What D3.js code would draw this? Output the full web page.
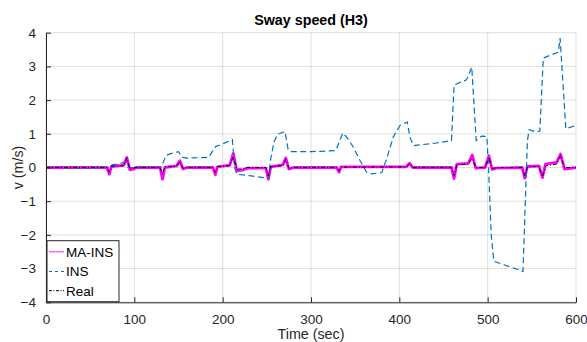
<!DOCTYPE html>
<html>
<head>
<meta charset="utf-8">
<script src="https://cdn.jsdelivr.net/npm/d3@7"></script>
<style>
  html, body { margin: 0; padding: 0; background: #fff; }
  svg { display: block; font-family: "Liberation Sans", Arial, Helvetica, sans-serif; }
</style>
</head>
<body>
<svg id="chart" width="587" height="342"></svg>
<script>
// Sway speed estimates over time: magnetometer-aided INS, plain INS, and the reference.
const xTicks = [0, 100, 200, 300, 400, 500, 600];
const yTicks = [-4, -3, -2, -1, 0, 1, 2, 3, 4];

const realT = [0, 69, 71.7, 74, 88, 91.5, 95, 99, 102, 129, 132, 134.5, 148, 151.5, 155, 160,
  189, 191.7, 194, 208, 212, 216, 222, 228, 249, 251.7, 254.5, 268, 271.5, 275, 280,
  329, 331.7, 334, 340, 408, 411.5, 415, 459, 462, 465, 478, 482.5, 486.5, 497, 501.5, 505, 510,
  539, 542, 545, 558, 562, 565.5, 578, 582.5, 587, 600];
const realV = [0, 0, -0.14, 0.04, 0.05, 0.28, -0.04, -0.02, 0, 0, -0.2, 0.02, 0.04, 0.17, -0.02, 0,
  0, -0.15, 0.03, 0.05, 0.32, -0.05, -0.04, 0, 0, -0.25, 0.03, 0.05, 0.24, -0.03, 0,
  0, -0.1, 0.02, 0.01, 0.02, 0.11, 0, 0, -0.24, 0.08, 0.1, 0.27, 0, 0, 0.29, -0.03, 0,
  0, -0.25, 0.02, 0.03, -0.27, 0.05, 0.1, 0.35, 0, 0];

const maT = [0, 69, 71.7, 74, 88, 91.5, 95, 99, 102, 129, 132, 134.5, 148, 151.5, 155, 160,
  189, 191.7, 194, 208, 212, 216, 222, 228, 249, 251.7, 254.5, 268, 271.5, 275, 280,
  329, 331.7, 334, 340, 408, 411.5, 415, 459, 462, 465, 478, 482.5, 486.5, 497, 501.5, 505, 510,
  539, 542, 545, 558, 562, 565.5, 578, 582.5, 587, 592, 600];
const maV = [0, 0, -0.2, 0.03, 0.07, 0.3, -0.07, -0.05, 0, 0, -0.35, 0, 0.05, 0.2, -0.04, 0,
  0, -0.22, 0.02, 0.07, 0.42, -0.1, -0.08, -0.02, -0.02, -0.35, 0.02, 0.08, 0.28, -0.05, 0,
  0, -0.14, 0.02, 0.02, 0.02, 0.13, 0, 0, -0.33, 0.1, 0.12, 0.37, -0.02, 0, 0.35, -0.06, -0.02,
  0, -0.32, 0.03, 0.05, -0.3, 0.1, 0.15, 0.4, -0.05, -0.03, 0];

const insT = [0, 18, 22, 55, 60, 70, 72, 80, 88, 90.5, 92, 130, 131, 136, 142, 150, 154, 160,
  184, 189, 192, 200, 211, 213.5, 216, 230, 252, 254, 258, 262, 270.5, 274, 277, 300, 328,
  336, 340.5, 348, 355.5, 363, 369, 380, 385.7, 393, 400.8, 409, 412, 416, 440, 459,
  462, 476, 482, 487, 493, 499, 501, 504, 507, 520, 540, 542, 545, 547, 555, 559,
  563, 580, 582, 588.5, 600];
const insV = [0, 0, -0.03, -0.03, 0, 0, 0.06, 0.1, 0.15, 0.05, 0, 0, 0.05, 0.36, 0.42, 0.47, 0.3, 0.28,
  0.3, 0.5, 0.62, 0.7, 0.83, 0, -0.2, -0.24, -0.32, 0.2, 0.75, 0.98, 1.07, 0.55, 0.47, 0.47, 0.5,
  1.02, 0.9, 0.6, 0.21, -0.14, -0.19, -0.15, 0.26, 0.9, 1.25, 1.35, 0.9, 0.65, 0.72, 0.8,
  2.45, 2.6, 2.98, 0.8, 0.93, 0.92, 0, -2.0, -2.78, -2.9, -3.08, -1.5, 0.8, 1.12, 1.05, 1.08,
  3.25, 3.42, 3.84, 1.15, 1.25];

const seriesNames = ["MA-INS", "INS", "Real"];

const svg = d3.select("#chart");
const plotLeft = 46, plotRight = 576, plotTop = 32.7, plotBottom = 302.3;
const x = d3.scaleLinear().domain([0, 600]).range([plotLeft, plotRight]);
const y = d3.scaleLinear().domain([-4, 4]).range([plotBottom, plotTop]);
const axisColor = "#262626";
const fontSize = "13.5px";

// grid
const grid = svg.append("g");
grid.selectAll("line.gx").data(xTicks).join("line")
  .attr("x1", d => x(d)).attr("x2", d => x(d)).attr("y1", plotTop).attr("y2", plotBottom)
  .attr("stroke", axisColor).attr("stroke-opacity", 0.15).attr("stroke-width", 1);
grid.selectAll("line.gy").data(yTicks).join("line")
  .attr("x1", plotLeft).attr("x2", plotRight).attr("y1", d => y(d)).attr("y2", d => y(d))
  .attr("stroke", axisColor).attr("stroke-opacity", 0.15).attr("stroke-width", 1);

// series
const toPts = (ts, vs) => ts.map((t, i) => [t, vs[i]]);
const line = d3.line().x(d => x(d[0])).y(d => y(d[1]));
const plot = svg.append("g");
plot.append("path").datum(toPts(maT, maV)).attr("d", line)
  .attr("fill", "none").attr("stroke", "#ff00ff").attr("stroke-width", 2.8).attr("stroke-linejoin", "round");
plot.append("path").datum(toPts(insT, insV)).attr("d", line)
  .attr("fill", "none").attr("stroke", "#0072bd").attr("stroke-width", 1.2).attr("stroke-dasharray", "6,3.5");
plot.append("path").datum(toPts(realT, realV)).attr("d", line)
  .attr("fill", "none").attr("stroke", "#000").attr("stroke-width", 1).attr("stroke-dasharray", "4,2,1,2");

// axes
const xAxis = svg.append("g").attr("transform", `translate(0,${plotBottom})`)
  .call(d3.axisBottom(x).tickValues(xTicks).tickSizeInner(-5).tickSizeOuter(0).tickPadding(12));
const yAxis = svg.append("g").attr("transform", `translate(${plotLeft},0)`)
  .call(d3.axisLeft(y).tickValues(yTicks).tickSizeInner(-5).tickSizeOuter(0).tickPadding(10));
[xAxis, yAxis].forEach(g => {
  g.select(".domain").attr("stroke", axisColor).attr("stroke-width", 1);
  g.selectAll(".tick line").attr("stroke", axisColor);
  g.selectAll(".tick text").attr("fill", axisColor).style("font-size", fontSize)
    .style("font-family", "'Liberation Sans', Arial, sans-serif");
});

// labels
svg.append("text").attr("x", (plotLeft + plotRight) / 2).attr("y", 25).attr("text-anchor", "middle")
  .style("font-size", "14.3px").style("font-weight", "bold").attr("fill", "#000").text("Sway speed (H3)");
svg.append("text").attr("x", (plotLeft + plotRight) / 2).attr("y", 338.5).attr("text-anchor", "middle")
  .style("font-size", "14.3px").attr("fill", axisColor).text("Time (sec)");
svg.append("text").attr("transform", `translate(23,${(plotTop + plotBottom) / 2}) rotate(-90)`)
  .attr("text-anchor", "middle").style("font-size", "14.3px").attr("fill", axisColor).text("v (m/s)");

// legend
const lg = svg.append("g");
lg.append("rect").attr("x", 47).attr("y", 240.7).attr("width", 72).attr("height", 61)
  .attr("fill", "#fff").attr("stroke", axisColor).attr("stroke-width", 1);
const legendStyles = [
  { color: "#ff66ff", width: 1.6, dash: null },
  { color: "#0072bd", width: 1, dash: "3,3" },
  { color: "#000", width: 1, dash: "3,1.5,1,1.5" }
];
const rowY = [251.7, 271.5, 290.7];
seriesNames.forEach((name, i) => {
  const s = legendStyles[i];
  lg.append("line").attr("x1", 49).attr("x2", 64).attr("y1", rowY[i]).attr("y2", rowY[i])
    .attr("stroke", s.color).attr("stroke-width", s.width).attr("stroke-dasharray", s.dash);
  lg.append("text").attr("x", 66).attr("y", rowY[i]).attr("dy", "0.36em")
    .style("font-size", fontSize).attr("fill", "#000").text(name);
});
</script>
</body>
</html>
